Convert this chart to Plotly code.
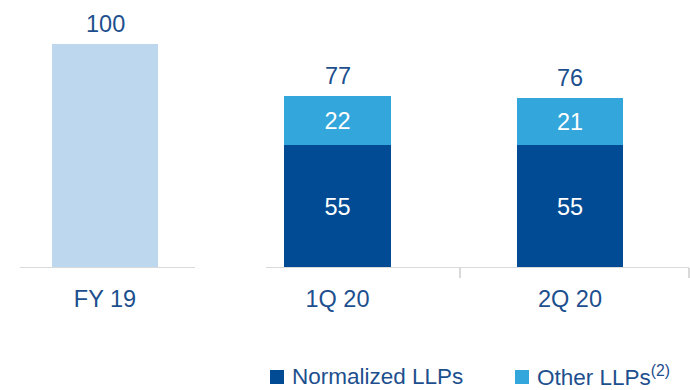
import plotly.graph_objects as go

# Loan-loss provisions by period
categories = ["FY 19", "1Q 20", "2Q 20"]
fy_total = [100, None, None]
normalized = [None, 55, 55]
other = [None, 22, 21]
totals = [100, 77, 76]
series_names = ["Normalized LLPs", "Other LLPs<sup>(2)</sup>"]

C_FY = "#BDD7EE"
C_NORM = "#004B93"
C_OTHER = "#33A6DB"
C_TEXT = "#1D4F8E"
C_AXIS = "#D9D9D9"
FONT = "Liberation Sans Narrow, Arial Narrow, Liberation Sans, sans-serif"
FS = 23.5

W, H = 690, 390
PLOT_BOTTOM = 268          # pixel row of the baseline
x = [0, 1, 2]
bw = 0.456


def px2x(p):
    return (p - 105) / 232.5


def px2py(p):
    return (PLOT_BOTTOM - p) / PLOT_BOTTOM


def present(values):
    """Positions and values of the categories that carry data."""
    pts = [(xi, v) for xi, v in zip(x, values) if v is not None]
    return [p[0] for p in pts], [p[1] for p in pts]


fig = go.Figure()
fx, fy = present(fy_total)
fig.add_trace(go.Bar(x=fx, y=fy, width=bw, marker=dict(color=C_FY, line_width=0),
                     hoverinfo="skip"))
for vals, color, name in ((normalized, C_NORM, series_names[0]),
                          (other, C_OTHER, series_names[1])):
    sx, sy = present(vals)
    fig.add_trace(go.Bar(x=sx, y=sy, width=bw, marker=dict(color=color, line_width=0),
                         name=name, text=[str(v) for v in sy], textposition="inside",
                         insidetextanchor="middle", textangle=0,
                         textfont=dict(color="white", size=FS, family=FONT)))

# Totals above bars
for xi, t in zip(x, totals):
    fig.add_annotation(x=xi, y=t, text=str(t), showarrow=False, yanchor="bottom", yshift=5,
                       font=dict(color=C_TEXT, size=FS, family=FONT))

# Broken baseline with separators
line = dict(color=C_AXIS, width=2)
fig.add_shape(type="line", xref="x", yref="y", x0=px2x(20), x1=px2x(195), y0=0, y1=0, line=line)
fig.add_shape(type="line", xref="x", yref="y", x0=px2x(266), x1=px2x(689), y0=0, y1=0, line=line)
for p in (460, 689):
    fig.add_shape(type="line", xref="x", yref="paper", x0=px2x(p), x1=px2x(p),
                  y0=0, y1=px2py(278), line=line)

# Legend drawn below the chart
legend_items = [(series_names[0], C_NORM, 270), (series_names[1], C_OTHER, 515)]
for name, color, px in legend_items:
    fig.add_shape(type="rect", xref="paper", yref="paper",
                  x0=px / W, x1=(px + 14) / W, y0=px2py(384), y1=px2py(370),
                  fillcolor=color, line_width=0)
    fig.add_annotation(xref="paper", yref="paper", x=(px + 20) / W, y=px2py(376),
                       xanchor="left", yanchor="middle", text=name, showarrow=False,
                       font=dict(color=C_TEXT, size=FS - 1, family=FONT))

fig.update_layout(
    width=W, height=H,
    margin=dict(l=0, r=0, t=0, b=H - PLOT_BOTTOM, autoexpand=False),
    barmode="stack",
    bargap=0,
    showlegend=False,
    plot_bgcolor="white", paper_bgcolor="white",
    font=dict(family=FONT, color=C_TEXT),
    xaxis=dict(range=[px2x(0), px2x(W)], tickvals=x, ticktext=categories,
               showgrid=False, zeroline=False, showline=False, ticks="", automargin=False,
               tickfont=dict(size=FS, color=C_TEXT, family=FONT), ticklabelstandoff=14),
    yaxis=dict(range=[0, PLOT_BOTTOM / 2.24], visible=False),
)

fig.write_html("out.html")
